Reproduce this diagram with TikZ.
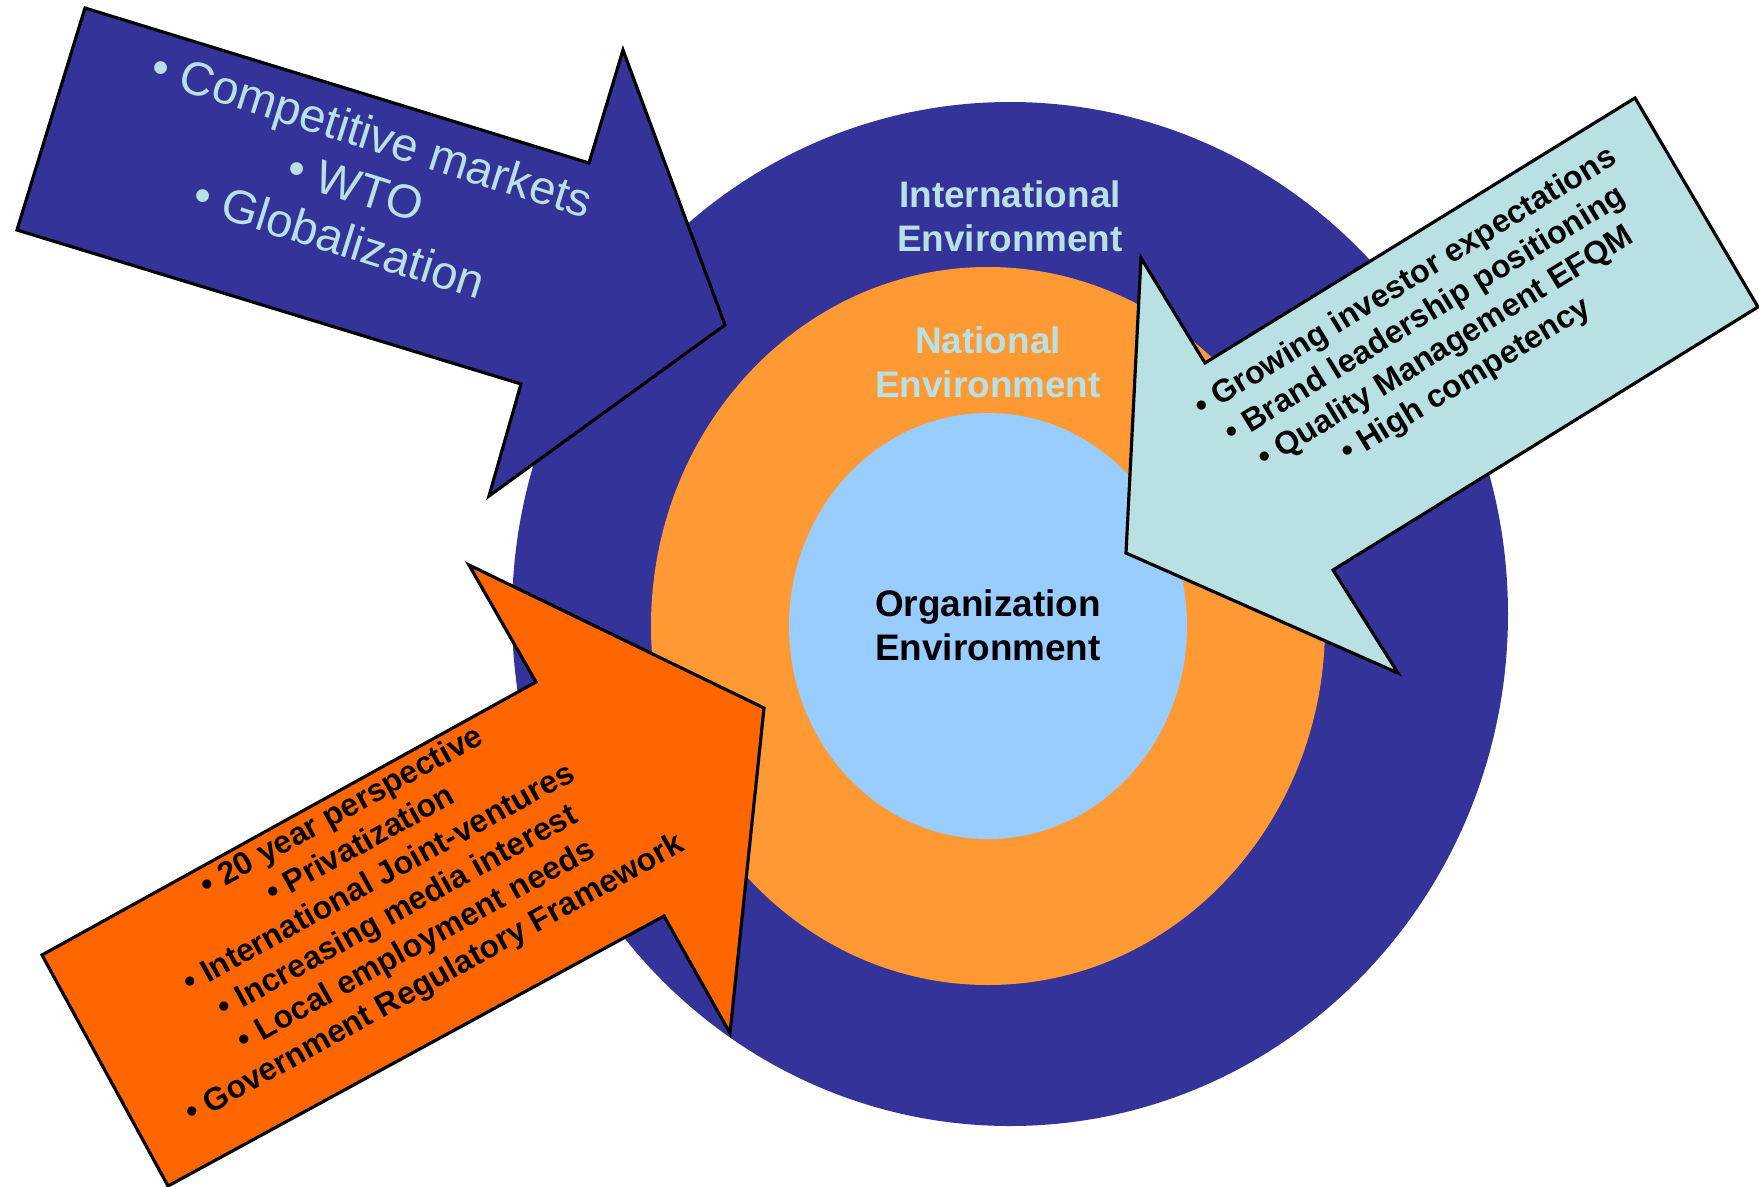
\documentclass[tikz,border=0pt]{standalone}
\usepackage{fontspec}
\setsansfont{Liberation Sans}

\definecolor{intlblue}{HTML}{333399}
\definecolor{natlorange}{HTML}{FF9933}
\definecolor{orgblue}{HTML}{99CCFF}
\definecolor{hotorange}{HTML}{FF6600}
\definecolor{paleteal}{HTML}{B9E0E3}

\begin{document}
\begin{tikzpicture}[x=0.01cm,y=-0.01cm,
                    arrow shape/.style={draw=black,line width=0.9pt,line join=miter},
                    ring label/.style={font=\sffamily\bfseries\fontsize{10.5}{12.5}\selectfont,align=center},
                    bullet list/.style={font=\sffamily\bfseries\fontsize{9.1}{10.9}\selectfont,align=center,text=black}]
  \useasboundingbox (0,0) rectangle (1759,1187);
  % the three environments
  \fill[intlblue] (1010,614) ellipse [x radius=498,y radius=512];
  \fill[natlorange] (988,626) ellipse [x radius=337,y radius=359];
  \fill[orgblue] (988,626) ellipse [x radius=199,y radius=213];
  \node[ring label,text=paleteal] (intl) at (1010,216) {International\\Environment};
  \node[ring label,text=paleteal] (natl) at (988,362) {National\\Environment};
  \node[ring label,text=black] (org) at (988,625) {Organization\\Environment};
  % pressure arrows
  \filldraw[arrow shape,fill=intlblue] (85,8) -- (589,163) -- (623,50) -- (725,325)
    -- (489,496) -- (521,384) -- (17,230) -- cycle;
  \filldraw[arrow shape,fill=paleteal] (1635,98) -- (1758,307) -- (1333,570) -- (1398,673)
    -- (1126,553) -- (1141,258) -- (1205,363) -- cycle;
  \filldraw[arrow shape,fill=hotorange] (469,565) -- (536,682) -- (42,955) -- (168,1186)
    -- (664,916) -- (730,1033) -- (764,708) -- cycle;
  \node[font=\sffamily\fontsize{13.4}{15.6}\selectfont,text=paleteal,align=center,rotate=-17.5]
    (globalList) at (356,186) {• Competitive markets\\• WTO\\• Globalization};
  \node[bullet list,rotate=31.5] (investorList) at (1436,332)
    {• Growing investor expectations\\• Brand leadership positioning\\
     • Quality Management EFQM\\• High competency};
  \node[bullet list,rotate=29] (nationalList) at (389,896)
    {• 20 year perspective\\• Privatization\\• International  Joint-ventures\\
     • Increasing media interest\\• Local employment needs\\
     • Government Regulatory Framework};
\end{tikzpicture}
\end{document}
